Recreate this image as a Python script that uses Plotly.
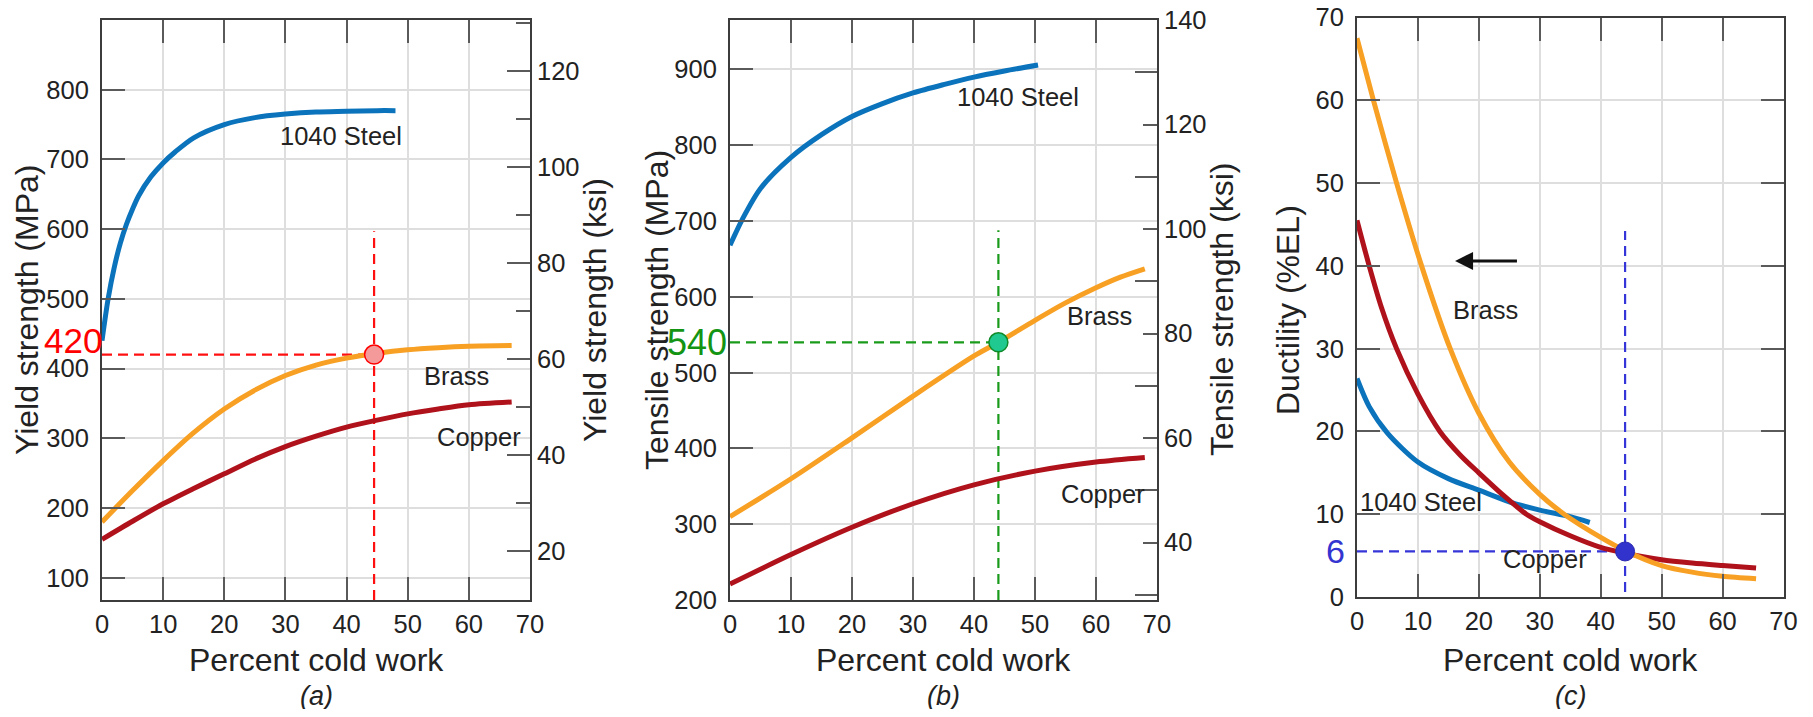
import plotly.graph_objects as go

# ---------------- data ----------------
# (a) Yield strength (MPa) vs percent cold work
a_steel_x = [0, 1, 2, 3, 4, 5, 6, 8, 10, 12, 15, 20, 25, 30, 35, 40, 45, 48]
a_steel_y = [440, 500, 545, 580, 607, 629, 648, 675, 695, 711, 731, 750, 760, 765, 768, 769, 770, 770]
a_brass_x = [0, 5, 10, 15, 20, 25, 30, 35, 40, 45, 50, 55, 60, 67]
a_brass_y = [180, 225, 268, 308, 342, 369, 390, 405, 415, 422, 427, 430, 432, 433]
a_copper_x = [0, 5, 10, 15, 20, 25, 30, 35, 40, 45, 50, 55, 60, 67]
a_copper_y = [155, 181, 206, 228, 249, 270, 288, 303, 316, 326, 335, 342, 348, 352]
a_point = (44.5, 420)

# (b) Tensile strength (MPa)
b_steel_x = [0, 2, 5, 10, 15, 20, 25, 30, 35, 40, 45, 50.5]
b_steel_y = [668, 702, 743, 784, 814, 838, 855, 869, 880, 890, 898, 906]
b_brass_x = [0, 10, 20, 30, 40, 44, 50, 55, 60, 64, 68]
b_brass_y = [310, 360, 414, 469, 522, 540, 569, 592, 612, 626, 637]
b_copper_x = [0, 10, 20, 30, 40, 50, 60, 68]
b_copper_y = [221, 260, 296, 327, 352, 370, 382, 388]
b_point = (44, 540)

# (c) Ductility (%EL)
c_steel_x = [0, 2, 5, 10, 15, 20, 25, 30, 35, 38.2]
c_steel_y = [26.4, 23, 19.8, 16.3, 14.3, 12.9, 11.5, 10.5, 9.7, 9.0]
c_brass_x = [0, 2.7, 6.5, 10.6, 15.3, 20, 25, 30, 34, 40, 44, 50, 55, 60, 65.5]
c_brass_y = [67.5, 60, 50, 40, 30, 22.2, 16.3, 12.4, 10.0, 7.2, 5.6, 3.8, 3.0, 2.5, 2.2]
c_copper_x = [0, 2, 4, 6.5, 10, 13.6, 17, 20, 24, 27.8, 30, 35, 40, 44, 50, 55, 60, 65.5]
c_copper_y = [45.5, 40, 35, 30, 24.5, 20, 17.1, 15.0, 12.3, 10, 9.1, 7.4, 6.0, 5.3, 4.5, 4.1, 3.8, 3.5]
c_point = (44, 5.5)

MPA_PER_KSI = 6.895
a_range = [68, 900]
b_range = [200, 965.3]
c_range = [0, 70]
x_range = [0, 70]
x_ticks = [0, 10, 20, 30, 40, 50, 60, 70]
a_ticks = [100, 200, 300, 400, 500, 600, 700, 800]
b_ticks = [200, 300, 400, 500, 600, 700, 800, 900]
c_ticks = [0, 10, 20, 30, 40, 50, 60, 70]

# ---------------- style ----------------
# the page keeps the browser's default 8px body margin; the figure fills the rest
OFF = 8
FW, FH = 1813 - 2 * OFF, 717 - 2 * OFF
FONT = "Liberation Sans, Arial, sans-serif"
BLUE, ORANGE, RED = "#0b73bb", "#f7a024", "#b0121c"
FRAME, TICK, GRID = "#3c3c3c", "#5a5a5a", "#dedede"


def px_x(p):
    return (p - OFF) / FW


def px_y(p):
    return 1 - (p - OFF) / FH


dom = {
    "a": ([px_x(102), px_x(530)], [px_y(600), px_y(20)]),
    "b": ([px_x(730), px_x(1157)], [px_y(600), px_y(20)]),
    "c": ([px_x(1357), px_x(1783.5)], [px_y(597), px_y(17.5)]),
}

fig = go.Figure()


def curve(x, y, color, xa, ya, opacity=1.0):
    fig.add_trace(go.Scatter(x=x, y=y, mode="lines", xaxis=xa, yaxis=ya, opacity=opacity,
                             line=dict(color=color, width=5, shape="spline", smoothing=0.8),
                             hoverinfo="skip", showlegend=False))


def dashed(x, y, color, xa, ya):
    fig.add_trace(go.Scatter(x=x, y=y, mode="lines", xaxis=xa, yaxis=ya,
                             line=dict(color=color, width=2.2, dash="10px,6px"),
                             hoverinfo="skip", showlegend=False))


# panel a
dashed([0, a_point[0]], [a_point[1], a_point[1]], "#ff1010", "x", "y")
dashed([a_point[0], a_point[0]], [a_range[0], 597], "#ff1010", "x", "y")
curve(a_steel_x, a_steel_y, BLUE, "x", "y")
curve(a_brass_x, a_brass_y, ORANGE, "x", "y")
curve(a_copper_x, a_copper_y, RED, "x", "y")
# same copper data in ksi on the secondary axis (invisible) so the ksi axis is drawn
curve(a_copper_x, [v / MPA_PER_KSI for v in a_copper_y], RED, "x", "y2", opacity=0)
fig.add_trace(go.Scatter(x=[a_point[0]], y=[a_point[1]], mode="markers", xaxis="x", yaxis="y",
                         marker=dict(size=19, color="#f59a9a", line=dict(color="#ff0000", width=1.5)),
                         hoverinfo="skip", showlegend=False))

# panel b
dashed([0, b_point[0]], [b_point[1], b_point[1]], "#1a9a1a", "x2", "y3")
dashed([b_point[0], b_point[0]], [b_range[0], 688], "#1a9a1a", "x2", "y3")
curve(b_steel_x, b_steel_y, BLUE, "x2", "y3")
curve(b_brass_x, b_brass_y, ORANGE, "x2", "y3")
curve(b_copper_x, b_copper_y, RED, "x2", "y3")
curve(b_copper_x, [v / MPA_PER_KSI for v in b_copper_y], RED, "x2", "y4", opacity=0)
fig.add_trace(go.Scatter(x=[b_point[0]], y=[b_point[1]], mode="markers", xaxis="x2", yaxis="y3",
                         marker=dict(size=19, color="#1fc98f", line=dict(color="#118a2a", width=1.5)),
                         hoverinfo="skip", showlegend=False))

# panel c
dashed([0, c_point[0]], [c_point[1], c_point[1]], "#3535d8", "x3", "y5")
dashed([c_point[0], c_point[0]], [0.6, 44.2], "#3535d8", "x3", "y5")
curve(c_steel_x, c_steel_y, BLUE, "x3", "y5")
curve(c_copper_x, c_copper_y, RED, "x3", "y5")
curve(c_brass_x, c_brass_y, ORANGE, "x3", "y5")
fig.add_trace(go.Scatter(x=[c_point[0]], y=[c_point[1]], mode="markers", xaxis="x3", yaxis="y5",
                         marker=dict(size=19, color="#3232cc", line=dict(color="#2a2ab0", width=1)),
                         hoverinfo="skip", showlegend=False))

tickfont = dict(family=FONT, size=25.5, color="#222")


def xaxis(domain, anchor):
    return dict(domain=domain, anchor=anchor, range=x_range, tickvals=x_ticks,
                ticks="inside", ticklen=23, tickwidth=1.5, tickcolor=TICK,
                showline=True, linecolor=FRAME, linewidth=2, mirror="ticks",
                showgrid=True, gridcolor=GRID, gridwidth=1.5, zeroline=False,
                tickfont=tickfont, ticklabelstandoff=0, ticklabeloverflow="allow",
                automargin=False, fixedrange=True)


def yaxis(domain, anchor, rng, tv, mirror):
    return dict(domain=domain, anchor=anchor, range=rng, tickvals=tv,
                ticks="inside", ticklen=23, tickwidth=1.5, tickcolor=TICK,
                showline=True, linecolor=FRAME, linewidth=2, mirror=mirror,
                showgrid=True, gridcolor=GRID, gridwidth=1.5, zeroline=False,
                tickfont=tickfont, ticklabelstandoff=6, ticklabeloverflow="allow",
                automargin=False, fixedrange=True)


def ksi_axis(over, anchor, rng, major_len, minor_len):
    return dict(overlaying=over, anchor=anchor, side="right", range=rng,
                tick0=0, dtick=20, ticks="inside", ticklen=major_len, tickwidth=1.5,
                tickcolor=TICK, showgrid=False, zeroline=False, showline=False,
                minor=dict(dtick=10, tick0=0, ticks="inside", ticklen=minor_len,
                           tickwidth=1.5, tickcolor=TICK, showgrid=False),
                tickfont=tickfont, ticklabelstandoff=6, ticklabeloverflow="allow",
                automargin=False, fixedrange=True)


fig.update_layout(
    width=FW, height=FH, autosize=False,
    margin=dict(l=0, r=0, t=0, b=0, pad=0, autoexpand=False),
    paper_bgcolor="white", plot_bgcolor="white", showlegend=False,
    font=dict(family=FONT, color="#222"),
    xaxis=xaxis(dom["a"][0], "y"),
    yaxis=yaxis(dom["a"][1], "x", a_range, a_ticks, True),
    yaxis2=ksi_axis("y", "x", [a_range[0] / MPA_PER_KSI, a_range[1] / MPA_PER_KSI], 23, 14),
    xaxis2=xaxis(dom["b"][0], "y3"),
    yaxis3=yaxis(dom["b"][1], "x2", b_range, b_ticks, True),
    yaxis4=ksi_axis("y3", "x2", [b_range[0] / MPA_PER_KSI, b_range[1] / MPA_PER_KSI], 14, 22),
    xaxis3=xaxis(dom["c"][0], "y5"),
    yaxis5=yaxis(dom["c"][1], "x3", c_range, c_ticks, "ticks"),
)

ann = []


def label(text, x, y, xref, yref, size=25.5, color="#222", xanchor="center", **kw):
    ann.append(dict(text=text, x=x, y=y, xref=xref, yref=yref, showarrow=False,
                    xanchor=xanchor, yanchor="middle",
                    font=dict(family=FONT, size=size, color=color), **kw))


# curve labels
label("1040 Steel", 39.1, 734, "x", "y")
label("Brass", 57.9, 389, "x", "y")
label("Copper", 61.7, 302, "x", "y")
label("1040 Steel", 47.2, 864, "x2", "y3")
label("Brass", 60.5, 575, "x2", "y3")
label("Copper", 61.2, 340, "x2", "y3")
label("Brass", 21.1, 34.7, "x3", "y5")
label("1040 Steel", 0.1, 11.5, "x3", "y5", xanchor="left")
label("Copper", 30.9, 4.6, "x3", "y5")

# highlighted values
label(str(a_point[1]), px_x(104), px_y(340), "paper", "paper", size=35, color="#ff0000", xanchor="right")
label(str(b_point[1]), px_x(729), px_y(342), "paper", "paper", size=36, color="#139413", xanchor="right")
label("6", px_x(1347), px_y(551), "paper", "paper", size=34, color="#3434d0", xanchor="right")

# arrow in (c)
ann.append(dict(text="", x=16.1, y=40.6, ax=26.5, ay=40.6, xref="x3", yref="y5",
                axref="x3", ayref="y5", showarrow=True, arrowhead=2, arrowsize=1.2,
                arrowwidth=3, arrowcolor="#111"))

# axis titles and panel captions
for cx in (316, 943.5, 1570):
    label("Percent cold work", px_x(cx), px_y(660), "paper", "paper", size=32)
for txt, cx in (("(a)", 316), ("(b)", 943.5), ("(c)", 1570)):
    label("<i>" + txt + "</i>", px_x(cx), px_y(696), "paper", "paper", size=27)

for txt, cx in (("Yield strength (MPa)", 27), ("Yield strength (ksi)", 595),
                ("Tensile strength (MPa)", 657), ("Tensile strength (ksi)", 1222),
                ("Ductility (%EL)", 1288)):
    label(txt, px_x(cx), px_y(310), "paper", "paper", size=32, textangle=-90)

fig.update_layout(annotations=ann)

fig.write_html("out.html", config={"displayModeBar": False})
